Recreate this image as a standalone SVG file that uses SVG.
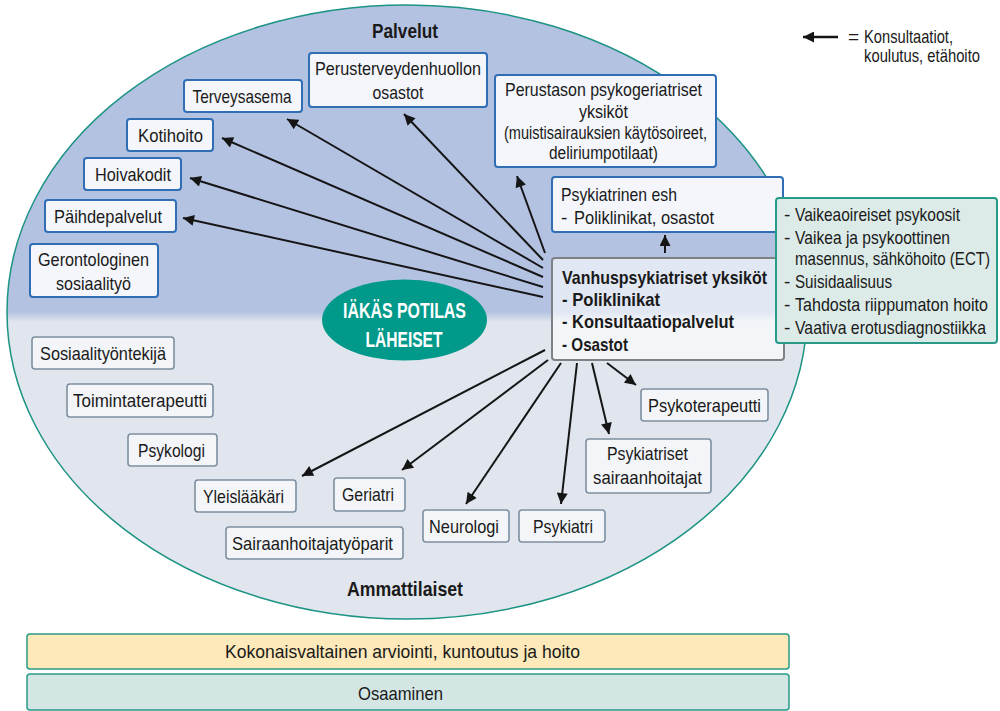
<svg xmlns="http://www.w3.org/2000/svg" width="1000" height="711" viewBox="0 0 1000 711">
<defs>
<linearGradient id="bg" x1="0" y1="0" x2="0" y2="1">
<stop offset="0" stop-color="#b4c2e2"/>
<stop offset="0.5" stop-color="#b4c2e2"/>
<stop offset="0.516" stop-color="#e1e6ee"/>
<stop offset="1" stop-color="#e1e6ee"/>
</linearGradient>
<marker id="ah" viewBox="0 0 10 10" markerUnits="userSpaceOnUse" markerWidth="14" markerHeight="11" refX="10" refY="5" orient="auto">
<path d="M0,0 L10,5 L0,10 z" fill="#151515"/>
</marker>
</defs>
<style>
text{font-family:"Liberation Sans",Arial,sans-serif;fill:#1a1a1a;font-size:19px}
.c{text-anchor:middle}
.b{font-weight:bold}
.sm{font-size:17.5px}
.nb{fill:#f4f6fb;stroke:#2f6db4;stroke-width:2}
.ng{fill:#f3f5f8;stroke:#7d8fa0;stroke-width:1.6}
.con line{stroke:#151515;stroke-width:2;marker-end:url(#ah)}
</style>
<ellipse cx="407" cy="312" rx="400" ry="307" fill="url(#bg)" stroke="#1c9383" stroke-width="1.5"/>
<text class="c b" x="405" y="38" style="font-size:20px" textLength="66" lengthAdjust="spacingAndGlyphs">Palvelut</text>
<text class="c b" x="405" y="596" style="font-size:21px" textLength="116" lengthAdjust="spacingAndGlyphs">Ammattilaiset</text>

<g id="legend">
<line x1="838" y1="37" x2="803" y2="37" stroke="#151515" stroke-width="2.5" marker-end="url(#ah)"/>
<text x="848" y="43">=</text>
<text x="864" y="43" textLength="89" lengthAdjust="spacingAndGlyphs">Konsultaatiot,</text>
<text x="864" y="62" textLength="116" lengthAdjust="spacingAndGlyphs">koulutus, etähoito</text>
</g>

<g id="iakas">
<ellipse cx="404.5" cy="320" rx="82.5" ry="40.5" fill="#00998a"/>
<text class="c b" x="404.5" y="318" style="fill:#fff;font-size:22px" textLength="123" lengthAdjust="spacingAndGlyphs">IÄKÄS POTILAS</text>
<text class="c b" x="404" y="347" style="fill:#fff;font-size:22px" textLength="77" lengthAdjust="spacingAndGlyphs">LÄHEISET</text>
</g>

<g id="terveysasema"><rect class="nb" x="184" y="80" width="118" height="32" rx="3"/><text class="c" x="242" y="103" textLength="99" lengthAdjust="spacingAndGlyphs">Terveysasema</text></g>
<g id="perusterveydenhuollon"><rect class="nb" x="309" y="53" width="178" height="54" rx="3"/><text class="c" x="398" y="75" textLength="166" lengthAdjust="spacingAndGlyphs">Perusterveydenhuollon</text><text class="c" x="398" y="99" textLength="51" lengthAdjust="spacingAndGlyphs">osastot</text></g>
<g id="kotihoito"><rect class="nb" x="127" y="119" width="86" height="32" rx="3"/><text class="c" x="170.5" y="142" textLength="65" lengthAdjust="spacingAndGlyphs">Kotihoito</text></g>
<g id="hoivakodit"><rect class="nb" x="84" y="158" width="97" height="32" rx="3"/><text class="c" x="133" y="181" textLength="76" lengthAdjust="spacingAndGlyphs">Hoivakodit</text></g>
<g id="paihdepalvelut"><rect class="nb" x="45" y="200" width="131" height="32" rx="3"/><text class="c" x="108" y="223" textLength="108" lengthAdjust="spacingAndGlyphs">Päihdepalvelut</text></g>
<g id="gerontologinen"><rect class="nb" x="30" y="244" width="128" height="53" rx="3"/><text class="c" x="93.5" y="266" textLength="111" lengthAdjust="spacingAndGlyphs">Gerontologinen</text><text class="c" x="93.5" y="290" textLength="75" lengthAdjust="spacingAndGlyphs">sosiaalityö</text></g>
<g id="perustason"><rect class="nb" x="495" y="75" width="221" height="92" rx="3"/><text class="c" x="603.5" y="96" textLength="197" lengthAdjust="spacingAndGlyphs">Perustason psykogeriatriset</text><text class="c" x="603.5" y="118" textLength="49" lengthAdjust="spacingAndGlyphs">yksiköt</text><text class="c sm" x="605.5" y="139" textLength="203" lengthAdjust="spacingAndGlyphs">(muistisairauksien käytösoireet,</text><text class="c sm" x="603.5" y="159" textLength="109" lengthAdjust="spacingAndGlyphs">deliriumpotilaat)</text></g>
<g id="psykiatrinen-esh"><rect class="nb" x="552" y="177" width="231" height="55" rx="3"/><text x="561" y="201" textLength="116" lengthAdjust="spacingAndGlyphs">Psykiatrinen esh</text><text x="561" y="224">-</text><text x="574" y="224" textLength="140" lengthAdjust="spacingAndGlyphs">Poliklinikat, osastot</text></g>
<g id="vanhuspsykiatriset"><rect x="552" y="258" width="232" height="102" rx="3" fill="#ffffff" fill-opacity="0.6" stroke="#7f8184" stroke-width="2"/>
<text class="b" x="562" y="284" textLength="205" lengthAdjust="spacingAndGlyphs">Vanhuspsykiatriset yksiköt</text>
<text class="b" x="562" y="306" textLength="98" lengthAdjust="spacingAndGlyphs">- Poliklinikat</text>
<text class="b" x="562" y="328" textLength="172" lengthAdjust="spacingAndGlyphs">- Konsultaatiopalvelut</text>
<text class="b" x="562" y="351" textLength="66" lengthAdjust="spacingAndGlyphs">- Osastot</text></g>
<g id="vaikea"><rect x="776" y="198" width="221" height="145" rx="3" fill="#dcebe8" stroke="#2a9a88" stroke-width="2"/>
<text x="784" y="221">-</text><text x="795" y="221" textLength="165" lengthAdjust="spacingAndGlyphs">Vaikeaoireiset psykoosit</text>
<text x="784" y="244">-</text><text x="795" y="244" textLength="155" lengthAdjust="spacingAndGlyphs">Vaikea ja psykoottinen</text>
<text x="795" y="265" textLength="195" lengthAdjust="spacingAndGlyphs">masennus, sähköhoito (ECT)</text>
<text x="784" y="288">-</text><text x="795" y="288" textLength="97" lengthAdjust="spacingAndGlyphs">Suisidaalisuus</text>
<text x="784" y="311">-</text><text x="795" y="311" textLength="193" lengthAdjust="spacingAndGlyphs">Tahdosta riippumaton hoito</text>
<text x="784" y="334">-</text><text x="795" y="334" textLength="191" lengthAdjust="spacingAndGlyphs">Vaativa erotusdiagnostiikka</text></g>

<g id="sosiaalityontekija"><rect class="ng" x="32" y="337" width="142" height="32" rx="3"/><text class="c" x="103" y="360" textLength="126" lengthAdjust="spacingAndGlyphs">Sosiaalityöntekijä</text></g>
<g id="toimintaterapeutti"><rect class="ng" x="67" y="384" width="146" height="33" rx="3"/><text class="c" x="140" y="407" textLength="134" lengthAdjust="spacingAndGlyphs">Toimintaterapeutti</text></g>
<g id="psykologi"><rect class="ng" x="128" y="434" width="89" height="32" rx="3"/><text class="c" x="171.5" y="457" textLength="67" lengthAdjust="spacingAndGlyphs">Psykologi</text></g>
<g id="yleislaakari"><rect class="ng" x="195" y="480" width="101" height="32" rx="3"/><text class="c" x="243.5" y="503" textLength="81" lengthAdjust="spacingAndGlyphs">Yleislääkäri</text></g>
<g id="geriatri"><rect class="ng" x="334" y="478" width="71" height="33" rx="3"/><text class="c" x="368" y="501" textLength="52" lengthAdjust="spacingAndGlyphs">Geriatri</text></g>
<g id="sairaanhoitajatyoparit"><rect class="ng" x="226" y="527" width="177" height="32" rx="3"/><text class="c" x="312.5" y="550" textLength="161" lengthAdjust="spacingAndGlyphs">Sairaanhoitajatyöparit</text></g>
<g id="neurologi"><rect class="ng" x="423" y="510" width="86" height="32" rx="3"/><text class="c" x="464" y="533" textLength="70" lengthAdjust="spacingAndGlyphs">Neurologi</text></g>
<g id="psykiatri"><rect class="ng" x="519" y="510" width="86" height="32" rx="3"/><text class="c" x="563" y="533" textLength="60" lengthAdjust="spacingAndGlyphs">Psykiatri</text></g>
<g id="psykiatriset-sairaanhoitajat"><rect class="ng" x="586" y="439" width="125" height="54" rx="3"/><text class="c" x="647.5" y="460" textLength="81" lengthAdjust="spacingAndGlyphs">Psykiatriset</text><text class="c" x="647.5" y="484" textLength="109" lengthAdjust="spacingAndGlyphs">sairaanhoitajat</text></g>
<g id="psykoterapeutti"><rect class="ng" x="641" y="389" width="127" height="32" rx="3"/><text class="c" x="704.5" y="412" textLength="113" lengthAdjust="spacingAndGlyphs">Psykoterapeutti</text></g>

<g id="connectors" class="con">
<line x1="543" y1="260" x2="404" y2="114"/>
<line x1="543" y1="268" x2="287" y2="119"/>
<line x1="543" y1="277" x2="222" y2="138"/>
<line x1="543" y1="287" x2="190" y2="178"/>
<line x1="543" y1="297" x2="183" y2="218"/>
<line x1="545" y1="253" x2="517" y2="176"/>
<line x1="665" y1="253" x2="665" y2="235"/>
<line x1="545" y1="350" x2="302" y2="476"/>
<line x1="548" y1="360" x2="402" y2="470"/>
<line x1="561" y1="363" x2="466" y2="504"/>
<line x1="577" y1="363" x2="561" y2="504"/>
<line x1="592" y1="363" x2="609" y2="434"/>
<line x1="607" y1="363" x2="636" y2="385"/>
</g>

<g id="kokonaisvaltainen"><rect x="27" y="634" width="762" height="35" rx="3" fill="#fde9b9" stroke="#2a9a88" stroke-width="1.5"/><text class="c" x="402.5" y="658" textLength="355" lengthAdjust="spacingAndGlyphs">Kokonaisvaltainen arviointi, kuntoutus ja hoito</text></g>
<g id="osaaminen"><rect x="27" y="674" width="762" height="36" rx="3" fill="#d3e6e3" stroke="#2a9a88" stroke-width="1.5"/><text class="c" x="400.5" y="700" textLength="85" lengthAdjust="spacingAndGlyphs">Osaaminen</text></g>
</svg>
